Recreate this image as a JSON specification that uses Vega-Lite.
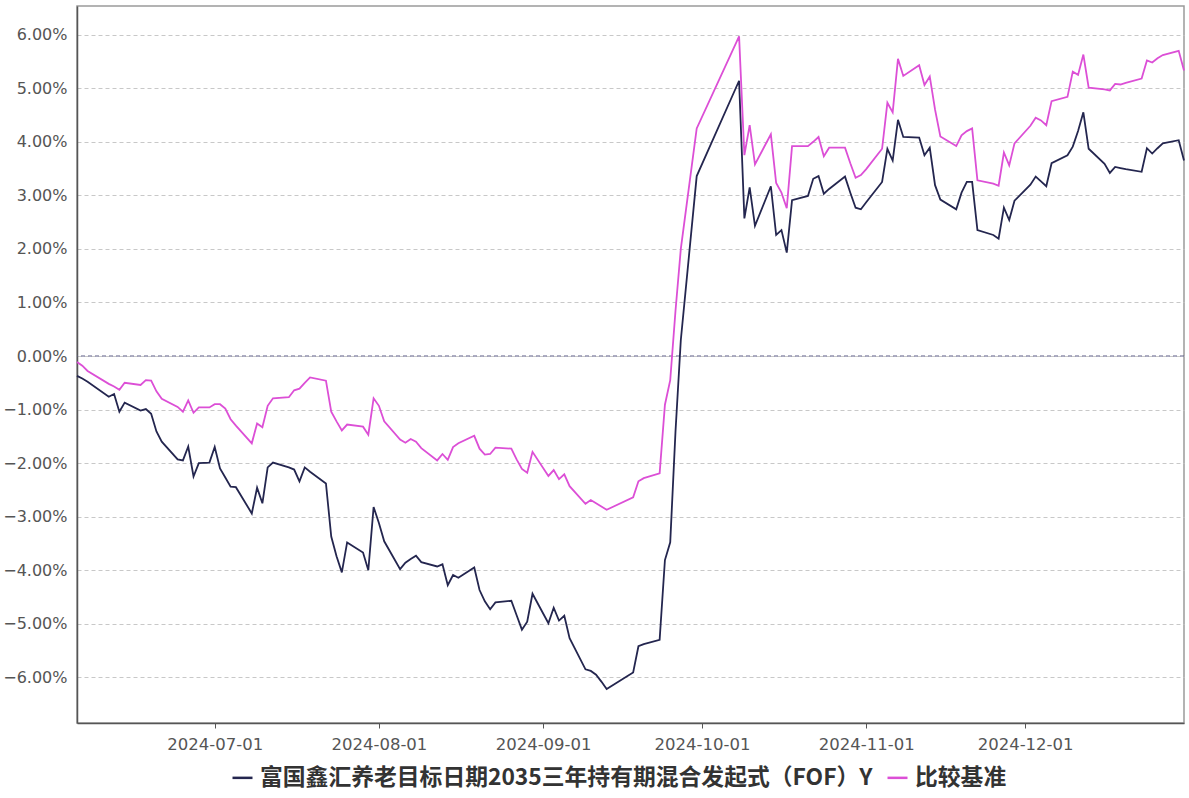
{
  "$schema": "https://vega.github.io/schema/vega-lite/v6.json",
  "width": 1107,
  "height": 717,
  "autosize": {"type": "none"},
  "padding": {"left": 77, "top": 6, "right": 5, "bottom": 75},
  "background": "white",
  "config": {
    "view": {"stroke": "#9a9a9a", "strokeWidth": 1.5},
    "axis": {"labelFont": "DejaVu Sans", "labelColor": "#555", "domainColor": "#555", "domainWidth": 1.5, "tickColor": "#555"}
  },
  "data": {"values": [
    {"d":"2024-06-05","f":-0.37,"b":-0.11},
    {"d":"2024-06-06","f":-0.42,"b":-0.18},
    {"d":"2024-06-07","f":-0.48,"b":-0.28},
    {"d":"2024-06-11","f":-0.76,"b":-0.52},
    {"d":"2024-06-12","f":-0.71,"b":-0.57},
    {"d":"2024-06-13","f":-1.04,"b":-0.63},
    {"d":"2024-06-14","f":-0.87,"b":-0.50},
    {"d":"2024-06-17","f":-1.02,"b":-0.54},
    {"d":"2024-06-18","f":-0.99,"b":-0.45},
    {"d":"2024-06-19","f":-1.08,"b":-0.46},
    {"d":"2024-06-20","f":-1.41,"b":-0.66},
    {"d":"2024-06-21","f":-1.60,"b":-0.80},
    {"d":"2024-06-24","f":-1.93,"b":-0.95},
    {"d":"2024-06-25","f":-1.95,"b":-1.04},
    {"d":"2024-06-26","f":-1.69,"b":-0.83},
    {"d":"2024-06-27","f":-2.25,"b":-1.06},
    {"d":"2024-06-28","f":-2.00,"b":-0.96},
    {"d":"2024-06-30","f":-1.99,"b":-0.96},
    {"d":"2024-07-01","f":-1.70,"b":-0.90},
    {"d":"2024-07-02","f":-2.10,"b":-0.90},
    {"d":"2024-07-03","f":-2.27,"b":-0.98},
    {"d":"2024-07-04","f":-2.44,"b":-1.18},
    {"d":"2024-07-05","f":-2.45,"b":-1.30},
    {"d":"2024-07-08","f":-2.94,"b":-1.63},
    {"d":"2024-07-09","f":-2.46,"b":-1.26},
    {"d":"2024-07-10","f":-2.75,"b":-1.33},
    {"d":"2024-07-11","f":-2.08,"b":-0.93},
    {"d":"2024-07-12","f":-1.99,"b":-0.79},
    {"d":"2024-07-15","f":-2.08,"b":-0.77},
    {"d":"2024-07-16","f":-2.12,"b":-0.64},
    {"d":"2024-07-17","f":-2.34,"b":-0.61},
    {"d":"2024-07-18","f":-2.08,"b":-0.50},
    {"d":"2024-07-19","f":-2.16,"b":-0.40},
    {"d":"2024-07-22","f":-2.38,"b":-0.46},
    {"d":"2024-07-23","f":-3.37,"b":-1.04},
    {"d":"2024-07-24","f":-3.74,"b":-1.22},
    {"d":"2024-07-25","f":-4.04,"b":-1.39},
    {"d":"2024-07-26","f":-3.48,"b":-1.28},
    {"d":"2024-07-29","f":-3.67,"b":-1.32},
    {"d":"2024-07-30","f":-4.00,"b":-1.47},
    {"d":"2024-07-31","f":-2.82,"b":-0.79},
    {"d":"2024-08-01","f":-3.12,"b":-0.93},
    {"d":"2024-08-02","f":-3.46,"b":-1.22},
    {"d":"2024-08-05","f":-3.98,"b":-1.56},
    {"d":"2024-08-06","f":-3.86,"b":-1.62},
    {"d":"2024-08-07","f":-3.79,"b":-1.55},
    {"d":"2024-08-08","f":-3.73,"b":-1.60},
    {"d":"2024-08-09","f":-3.85,"b":-1.72},
    {"d":"2024-08-12","f":-3.93,"b":-1.95},
    {"d":"2024-08-13","f":-3.89,"b":-1.83},
    {"d":"2024-08-14","f":-4.28,"b":-1.94},
    {"d":"2024-08-15","f":-4.09,"b":-1.70},
    {"d":"2024-08-16","f":-4.14,"b":-1.63},
    {"d":"2024-08-19","f":-3.95,"b":-1.49},
    {"d":"2024-08-20","f":-4.37,"b":-1.73},
    {"d":"2024-08-21","f":-4.58,"b":-1.84},
    {"d":"2024-08-22","f":-4.73,"b":-1.83},
    {"d":"2024-08-23","f":-4.60,"b":-1.71},
    {"d":"2024-08-26","f":-4.57,"b":-1.73},
    {"d":"2024-08-27","f":-4.84,"b":-1.93},
    {"d":"2024-08-28","f":-5.11,"b":-2.11},
    {"d":"2024-08-29","f":-4.96,"b":-2.18},
    {"d":"2024-08-30","f":-4.44,"b":-1.79},
    {"d":"2024-09-02","f":-4.99,"b":-2.24},
    {"d":"2024-09-03","f":-4.70,"b":-2.13},
    {"d":"2024-09-04","f":-4.94,"b":-2.30},
    {"d":"2024-09-05","f":-4.85,"b":-2.21},
    {"d":"2024-09-06","f":-5.27,"b":-2.43},
    {"d":"2024-09-09","f":-5.85,"b":-2.76},
    {"d":"2024-09-10","f":-5.88,"b":-2.69},
    {"d":"2024-09-11","f":-5.95,"b":-2.75},
    {"d":"2024-09-12","f":-6.08,"b":-2.81},
    {"d":"2024-09-13","f":-6.22,"b":-2.87},
    {"d":"2024-09-18","f":-5.91,"b":-2.64},
    {"d":"2024-09-19","f":-5.42,"b":-2.34},
    {"d":"2024-09-20","f":-5.38,"b":-2.28},
    {"d":"2024-09-23","f":-5.30,"b":-2.19},
    {"d":"2024-09-24","f":-3.81,"b":-0.91},
    {"d":"2024-09-25","f":-3.48,"b":-0.45},
    {"d":"2024-09-26","f":-1.40,"b":0.85},
    {"d":"2024-09-27","f":0.30,"b":2.00},
    {"d":"2024-09-30","f":3.36,"b":4.25},
    {"d":"2024-10-08","f":5.14,"b":5.97},
    {"d":"2024-10-09","f":2.57,"b":3.75},
    {"d":"2024-10-10","f":3.15,"b":4.31},
    {"d":"2024-10-11","f":2.43,"b":3.58},
    {"d":"2024-10-14","f":3.17,"b":4.14},
    {"d":"2024-10-15","f":2.26,"b":3.23},
    {"d":"2024-10-16","f":2.35,"b":3.05},
    {"d":"2024-10-17","f":1.93,"b":2.76},
    {"d":"2024-10-18","f":2.91,"b":3.92},
    {"d":"2024-10-21","f":2.99,"b":3.92},
    {"d":"2024-10-22","f":3.31,"b":4.00},
    {"d":"2024-10-23","f":3.36,"b":4.09},
    {"d":"2024-10-24","f":3.03,"b":3.73},
    {"d":"2024-10-25","f":3.12,"b":3.89},
    {"d":"2024-10-28","f":3.35,"b":3.89},
    {"d":"2024-10-29","f":3.05,"b":3.60},
    {"d":"2024-10-30","f":2.77,"b":3.33},
    {"d":"2024-10-31","f":2.74,"b":3.38},
    {"d":"2024-11-01","f":2.87,"b":3.49},
    {"d":"2024-11-04","f":3.25,"b":3.87},
    {"d":"2024-11-05","f":3.87,"b":4.73},
    {"d":"2024-11-06","f":3.65,"b":4.55},
    {"d":"2024-11-07","f":4.41,"b":5.55},
    {"d":"2024-11-08","f":4.09,"b":5.23},
    {"d":"2024-11-11","f":4.08,"b":5.43},
    {"d":"2024-11-12","f":3.75,"b":5.06},
    {"d":"2024-11-13","f":3.89,"b":5.22},
    {"d":"2024-11-14","f":3.19,"b":4.60},
    {"d":"2024-11-15","f":2.92,"b":4.10},
    {"d":"2024-11-18","f":2.74,"b":3.92},
    {"d":"2024-11-19","f":3.05,"b":4.12},
    {"d":"2024-11-20","f":3.25,"b":4.20},
    {"d":"2024-11-21","f":3.25,"b":4.25},
    {"d":"2024-11-22","f":2.35,"b":3.28},
    {"d":"2024-11-25","f":2.26,"b":3.22},
    {"d":"2024-11-26","f":2.19,"b":3.18},
    {"d":"2024-11-27","f":2.77,"b":3.80},
    {"d":"2024-11-28","f":2.54,"b":3.56},
    {"d":"2024-11-29","f":2.90,"b":3.97},
    {"d":"2024-12-02","f":3.20,"b":4.30},
    {"d":"2024-12-03","f":3.35,"b":4.45},
    {"d":"2024-12-04","f":3.26,"b":4.40},
    {"d":"2024-12-05","f":3.17,"b":4.31},
    {"d":"2024-12-06","f":3.60,"b":4.76},
    {"d":"2024-12-09","f":3.75,"b":4.84},
    {"d":"2024-12-10","f":3.91,"b":5.31},
    {"d":"2024-12-11","f":4.20,"b":5.25},
    {"d":"2024-12-12","f":4.55,"b":5.63},
    {"d":"2024-12-13","f":3.87,"b":5.01},
    {"d":"2024-12-16","f":3.59,"b":4.98},
    {"d":"2024-12-17","f":3.42,"b":4.96},
    {"d":"2024-12-18","f":3.53,"b":5.08},
    {"d":"2024-12-19","f":3.51,"b":5.07},
    {"d":"2024-12-20","f":3.49,"b":5.10},
    {"d":"2024-12-23","f":3.44,"b":5.18},
    {"d":"2024-12-24","f":3.88,"b":5.52},
    {"d":"2024-12-25","f":3.78,"b":5.48},
    {"d":"2024-12-26","f":3.88,"b":5.56},
    {"d":"2024-12-27","f":3.97,"b":5.62},
    {"d":"2024-12-30","f":4.03,"b":5.70},
    {"d":"2024-12-31","f":3.65,"b":5.33}
  ]},
  "layer": [
    {
      "data": {"values": [{"z": 0}]},
      "mark": {"type": "rule", "color": "#5b5b85", "strokeDash": [4, 3], "strokeWidth": 1},
      "encoding": {
        "y": {"field": "z", "type": "quantitative", "title": null}
      }
    },
    {
      "transform": [{"fold": ["f", "b"], "as": ["s", "v"]}],
      "mark": {"type": "line", "strokeWidth": 1.8, "interpolate": "linear"},
      "encoding": {
        "x": {
          "field": "d", "type": "temporal", "title": null,
          "scale": {"type": "utc", "nice": false, "domain": [{"year": 2024, "month": 6, "date": 5, "utc": true}, {"year": 2024, "month": 12, "date": 31, "utc": true}]},
          "axis": {
            "values": [
              {"year": 2024, "month": 7, "date": 1, "utc": true},
              {"year": 2024, "month": 8, "date": 1, "utc": true},
              {"year": 2024, "month": 9, "date": 1, "utc": true},
              {"year": 2024, "month": 10, "date": 1, "utc": true},
              {"year": 2024, "month": 11, "date": 1, "utc": true},
              {"year": 2024, "month": 12, "date": 1, "utc": true}
            ],
            "format": "%Y-%m-%d", "grid": false, "tickSize": 5, "labelFontSize": 16.5, "labelPadding": 8, "labelFlush": false
          }
        },
        "y": {
          "field": "v", "type": "quantitative", "title": null,
          "scale": {"domain": [-6.853, 6.536], "nice": false, "zero": false},
          "axis": {
            "values": [-6, -5, -4, -3, -2, -1, 0, 1, 2, 3, 4, 5, 6],
            "labelExpr": "format(datum.value, '.2f') + '%'",
            "ticks": false, "labelPadding": 10, "labelFontSize": 16,
            "grid": true, "gridColor": "#c8c8c8", "gridDash": [4, 3], "gridWidth": 1
          }
        },
        "color": {
          "field": "s", "type": "nominal",
          "scale": {"domain": ["f", "b"], "range": ["#24264f", "#dc4fd6"]},
          "legend": {
            "title": null, "orient": "none", "direction": "horizontal",
            "legendX": 154, "legendY": 760, "padding": 0,
            "symbolType": "stroke", "symbolSize": 400, "symbolStrokeWidth": 2.5,
            "labelFont": "Noto Sans CJK SC", "labelFontSize": 22.8, "labelFontWeight": "bold", "labelColor": "#333",
            "labelOffset": 6, "columnPadding": 9, "labelLimit": 1000,
            "labelExpr": "datum.value == 'f' ? '富国鑫汇养老目标日期2035三年持有期混合发起式（FOF）Y' : '比较基准'"
          }
        }
      }
    }
  ]
}
